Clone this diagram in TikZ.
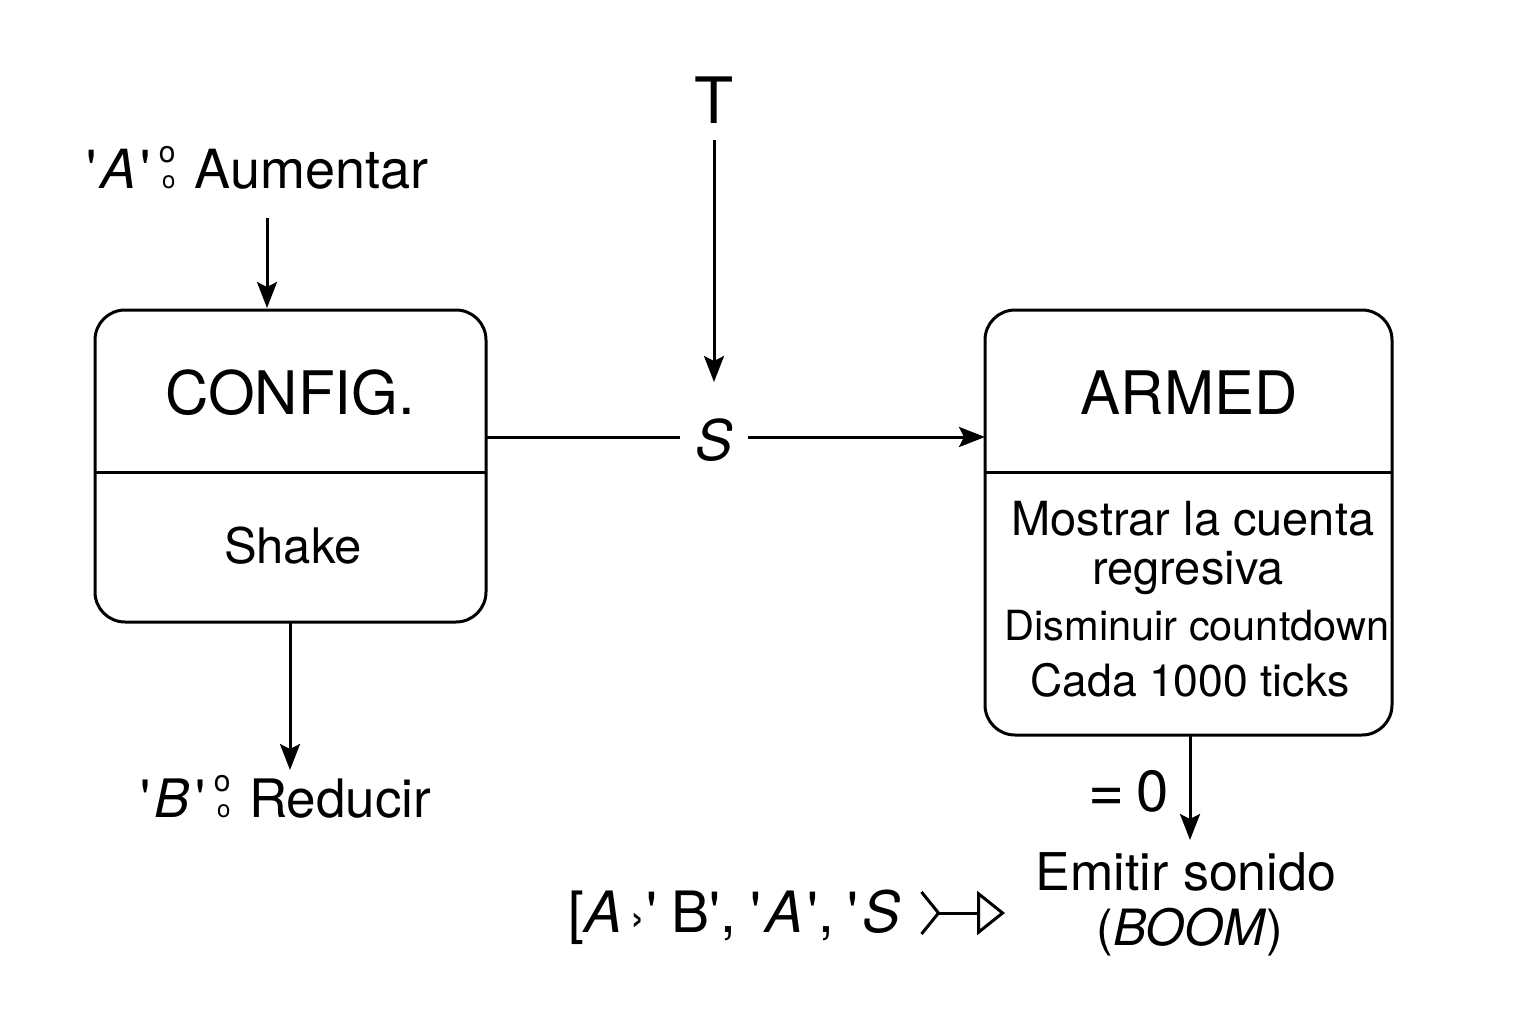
\documentclass[tikz,border=0pt]{standalone}
\usepackage{fontspec}
\newfontfamily\hv{TeX Gyre Heros}
\usetikzlibrary{arrows.meta}
\newcommand{\fs}[1]{\fontsize{#1}{#1}\selectfont}
\newcommand{\oocolon}{\kern8pt\raisebox{26pt}{\fs{30}o}\llap{\fs{24}o}\kern4pt}
\begin{document}
\begin{tikzpicture}[x=1pt,y=-1pt,
  every node/.style={font=\hv, inner sep=0pt},
  ln/.style={line width=3pt},
  arr/.style={ln,-{Stealth[length=26pt,width=20pt,inset=5pt]}},
  statebox/.style={draw,line width=3pt,rounded corners=30pt}]
\useasboundingbox (0,0) rectangle (1536,1024);
% CONFIG box
\draw[statebox] (95,310) rectangle (486,622);
\draw[ln] (95,472) -- (486,472);
\node (cfg) at (290,393) {\fs{60}CONFIG.};
\node (shake) at (293,546) {\fs{49}Shake};
\coordinate (cfgE) at (486,437);
\coordinate (cfgT) at (267,308);
\coordinate (cfgB) at (290,622);
% ARMED box
\draw[statebox] (985,310) rectangle (1392,735);
\draw[ln] (985,472) -- (1392,472);
\node (armed) at (1189,393) {\fs{60}ARMED};
\node (l1) at (1193,519) {\fs{47}Mostrar la cuenta};
\node (l2) at (1188,573) {\fs{47}regresiva};
\node (l3) at (1197,626) {\fs{41.5}Disminuir countdown};
\node (l4) at (1190,680) {\fs{44.5}Cada 1000 ticks};
\coordinate (armW) at (985,437);
\coordinate (armB) at (1190,735);
% labels
\node[anchor=base west] (aum) at (86,189) {\fs{54}'\kern4pt\textit{A}\kern4pt'\oocolon\ Aumentar};
\coordinate (aumB) at (267,218);
\node[anchor=base west] (red) at (140,817) {\fs{53}'\kern4pt\textit{B}\kern6pt'\oocolon\ Reducir};
\coordinate (redT) at (290,770);
\node (T) at (714,100) {\fs{64}T};
\coordinate (TB) at (714,140);
\coordinate (TE) at (714,382);
\node (S) at (714,440) {\fs{56}\textit{S}};
\coordinate (SL) at (680,437);
\coordinate (SR) at (748,437);
\node[anchor=base west] (eq) at (1088,811) {\fs{62}=\kern12pt{\fs{58}0}};
\coordinate (emitT) at (1190,840);
\node (emit) at (1186,872) {\fs{52}Emitir sonido};
\node (boom) at (1190,932) {\fs{50}(\textit{BOOM})};
\node[anchor=base west] (seq) at (568,932) {\fs{57}[\textit{A}\kern8pt{\fs{44}›}\kern2pt'\kern14pt B',\kern14pt'\kern4pt\textit{A}\kern4pt',\kern14pt'\kern4pt\textit{S}};
\coordinate (seqE) at (920,913);
\coordinate (seqH) at (1005,913);
% connectors
\draw[arr] (aumB) -- (cfgT);
\draw[arr] (cfgB) -- (redT);
\draw[arr] (TB) -- (TE);
\draw[ln] (cfgE) -- (SL);
\draw[arr] (SR) -- (armW);
\draw[arr] (armB) -- (emitT);
\draw[ln,{Straight Barb[reversed,length=17pt,width=42pt]}-{Triangle[open,length=28pt,width=44pt,line width=3pt]}] (seqE) -- (seqH);
\end{tikzpicture}
\end{document}
